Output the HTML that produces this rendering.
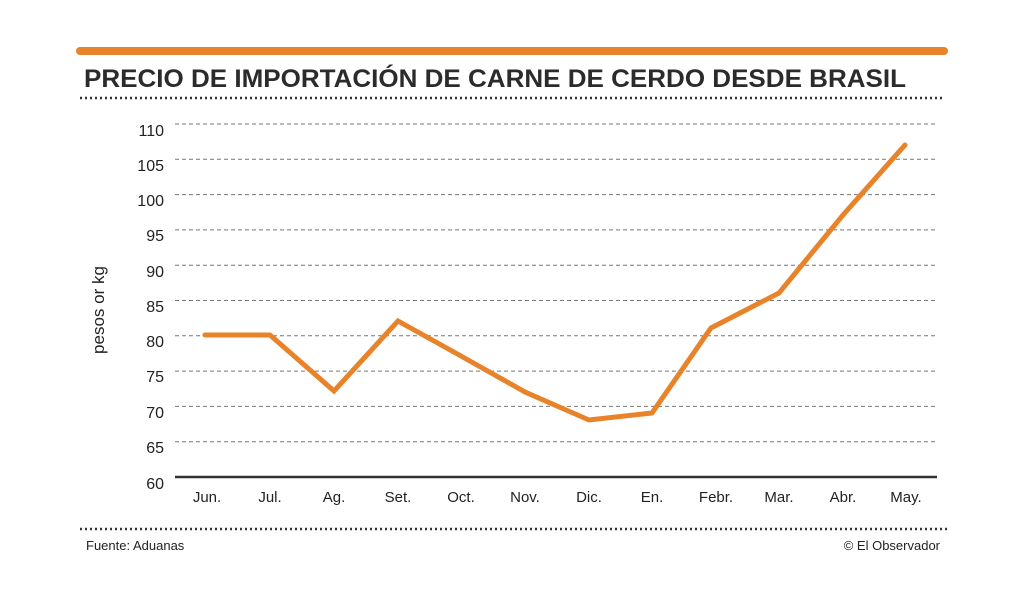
<!DOCTYPE html>
<html><head><meta charset="utf-8"><style>
html,body{margin:0;padding:0;background:#fff;}
svg{display:block;font-family:"Liberation Sans",sans-serif;}
</style></head><body>
<svg width="1024" height="597" viewBox="0 0 1024 597">
<line x1="80" y1="51" x2="944" y2="51" stroke="#e8832a" stroke-width="8" stroke-linecap="round"/>
<text x="84" y="87" font-size="25" font-weight="bold" fill="#2b2b2b" textLength="822" lengthAdjust="spacingAndGlyphs">PRECIO DE IMPORTACIÓN DE CARNE DE CERDO DESDE BRASIL</text>
<line x1="80" y1="98" x2="944" y2="98" stroke="#333" stroke-width="2.5" stroke-dasharray="2 3"/>
<g stroke="#777" stroke-width="1" stroke-dasharray="4 3">
<line x1="175" y1="124" x2="937" y2="124"/><line x1="175" y1="159.3" x2="937" y2="159.3"/>
<line x1="175" y1="194.6" x2="937" y2="194.6"/><line x1="175" y1="229.9" x2="937" y2="229.9"/>
<line x1="175" y1="265.2" x2="937" y2="265.2"/><line x1="175" y1="300.5" x2="937" y2="300.5"/>
<line x1="175" y1="335.8" x2="937" y2="335.8"/><line x1="175" y1="371.1" x2="937" y2="371.1"/>
<line x1="175" y1="406.4" x2="937" y2="406.4"/><line x1="175" y1="441.7" x2="937" y2="441.7"/>
</g>
<line x1="175" y1="477" x2="937" y2="477" stroke="#333" stroke-width="2.5"/>
<g font-size="16" fill="#222" text-anchor="end">
<text x="164" y="136">110</text><text x="164" y="171">105</text><text x="164" y="206">100</text>
<text x="164" y="241">95</text><text x="164" y="277">90</text><text x="164" y="312">85</text>
<text x="164" y="347">80</text><text x="164" y="382">75</text><text x="164" y="418">70</text>
<text x="164" y="453">65</text><text x="164" y="489">60</text>
</g>
<text transform="translate(104,310) rotate(-90)" font-size="17" fill="#222" text-anchor="middle">pesos or kg</text>
<g font-size="15" fill="#222" text-anchor="middle">
<text x="207" y="502">Jun.</text><text x="270" y="502">Jul.</text><text x="334" y="502">Ag.</text>
<text x="398" y="502">Set.</text><text x="461" y="502">Oct.</text><text x="525" y="502">Nov.</text>
<text x="589" y="502">Dic.</text><text x="652" y="502">En.</text><text x="716" y="502">Febr.</text>
<text x="779" y="502">Mar.</text><text x="843" y="502">Abr.</text><text x="906" y="502">May.</text>
</g>
<polyline fill="none" stroke="#e8832a" stroke-width="5" stroke-linejoin="miter" stroke-linecap="round"
points="205,335 270,335 334,391 398,321 461,356 525,392 589,420 652,413 711,328 779,293 843,215 905,145"/>
<line x1="80" y1="529" x2="948" y2="529" stroke="#333" stroke-width="2.5" stroke-dasharray="2 3"/>
<text x="86" y="550" font-size="13" fill="#222">Fuente: Aduanas</text>
<text x="940" y="550" font-size="13" fill="#222" text-anchor="end">© El Observador</text>
</svg>
</body></html>
